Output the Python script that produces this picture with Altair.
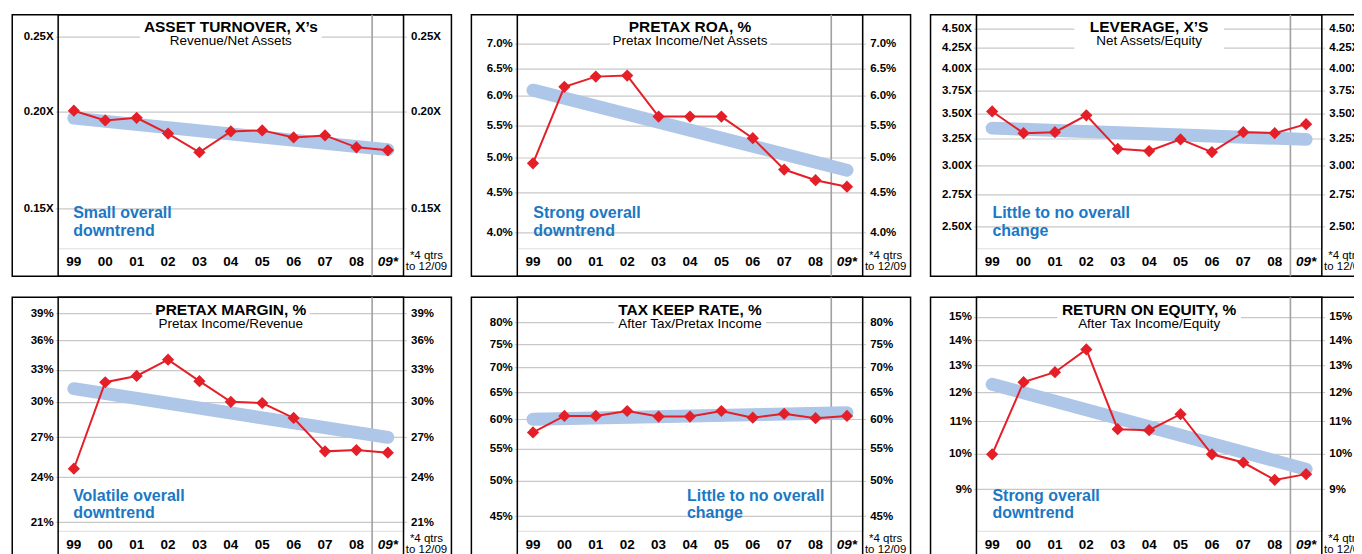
import altair as alt
import pandas as pd

categories = ["99", "00", "01", "02", "03", "04", "05", "06", "07", "08", "09*"]

titles = ["ASSET TURNOVER, X\u2019s", "PRETAX ROA, %", "LEVERAGE, X\u2019S",
          "PRETAX MARGIN, %", "TAX KEEP RATE, %", "RETURN ON EQUITY, %"]
subtitles = ["Revenue/Net Assets", "Pretax Income/Net Assets", "Net Assets/Equity",
             "Pretax Income/Revenue", "After Tax/Pretax Income", "After Tax Income/Equity"]
notes = [["Small overall", "downtrend"], ["Strong overall", "downtrend"],
         ["Little to no overall", "change"], ["Volatile overall", "downtrend"],
         ["Little to no overall", "change"], ["Strong overall", "downtrend"]]

asset_turnover = [0.2007, 0.1950, 0.1965, 0.1875, 0.1774, 0.1887, 0.1893, 0.1854, 0.1865, 0.1800, 0.1784]
pretax_roa = [4.91, 6.16, 6.35, 6.37, 5.64, 5.64, 5.64, 5.29, 4.82, 4.67, 4.58]
leverage = [3.52, 3.30, 3.31, 3.48, 3.15, 3.13, 3.24, 3.12, 3.31, 3.30, 3.39]
pretax_margin = [24.6, 31.8, 32.4, 34.0, 31.9, 30.0, 29.9, 28.6, 25.9, 26.0, 25.8]
tax_keep = [57.7, 60.6, 60.6, 61.5, 60.5, 60.5, 61.5, 60.3, 61.0, 60.2, 60.6]
roe = [9.98, 12.36, 12.73, 13.62, 10.75, 10.72, 11.24, 9.98, 9.74, 9.25, 9.41]
series = [asset_turnover, pretax_roa, leverage, pretax_margin, tax_keep, roe]

trend_start = [0.1963, 6.10, 3.35, 31.2, 60.0, 12.28]
trend_end = [0.1788, 4.81, 3.24, 27.0, 61.2, 9.55]

y_domains = [[0.1334, 0.2668], [3.815, 7.63], [2.345, 4.69],
             [20.46, 40.93], [43.1, 86.2], [7.955, 15.90]]
y_ticks = [[0.15, 0.20, 0.25],
           [4.0, 4.5, 5.0, 5.5, 6.0, 6.5, 7.0],
           [2.5, 2.75, 3.0, 3.25, 3.5, 3.75, 4.0, 4.25, 4.5],
           [21, 24, 27, 30, 33, 36, 39],
           [45, 50, 55, 60, 65, 70, 75, 80],
           [9, 10, 11, 12, 13, 14, 15]]
label_exprs = ["format(datum.value, '.2f') + 'X'",
               "format(datum.value, '.1f') + '%'",
               "format(datum.value, '.2f') + 'X'",
               "format(datum.value, 'd') + '%'",
               "format(datum.value, 'd') + '%'",
               "format(datum.value, 'd') + '%'"]
title_box_w = [182, 160, 150, 158, 152, 184]
note_x = [15, 16, 16, 15, 170, 16]
footnote = ["*4 qtrs", "to 12/09"]

W, H, ROW = 346, 234, 28
FONT = "Liberation Sans"
GRID = "#c8c8c8"
RED = "#e41f28"
TREND = "#aec6e8"
BLUE = "#1b78c4"


def panel(i):
    df = pd.DataFrame({"cat": categories, "value": series[i]})
    tdf = pd.DataFrame({"cat": [categories[0], categories[-1]],
                        "value": [trend_start[i], trend_end[i]]})
    one = pd.DataFrame({"k": [0]})
    xs = alt.Scale(type="band", domain=categories, paddingInner=0, paddingOuter=0)
    ys = alt.Scale(type="log", domain=y_domains[i], nice=False, zero=False)

    x_axis = alt.X("cat:N", scale=xs, sort=categories, title=None,
                   axis=alt.Axis(labels=False, tickBand="extent", grid=True,
                                 gridColor=GRID, gridWidth=1.2, ticks=True,
                                 tickSize=ROW, tickColor=GRID, tickWidth=1.2,
                                 domain=True, domainColor="black", domainWidth=1.5))
    x_plain = alt.X("cat:N", scale=xs, sort=categories, axis=None)

    left_axis = alt.Axis(orient="left", values=y_ticks[i], labelExpr=label_exprs[i],
                         title=None, grid=True, gridColor=GRID, gridWidth=1.2,
                         domain=False, ticks=True, tickColor=GRID, tickSize=3,
                         labelFont=FONT, labelFontWeight="bold", labelFontSize=11.5,
                         labelColor="black", labelPadding=2)
    right_axis = alt.Axis(orient="right", values=y_ticks[i], labelExpr=label_exprs[i],
                          title=None, grid=False, domain=False, ticks=True,
                          tickColor=GRID, tickSize=3,
                          labelFont=FONT, labelFontWeight="bold", labelFontSize=11.5,
                          labelColor="black", labelPadding=4)

    outer = alt.Chart(one).mark_rect(fill="white", fillOpacity=0, stroke="black",
                                     strokeWidth=1.5).encode(
        x=alt.value(-46), x2=alt.value(W + 48), y=alt.value(0), y2=alt.value(H + ROW))
    inner = alt.Chart(one).mark_rect(fill="white", fillOpacity=0, stroke="black",
                                     strokeWidth=1.5).encode(
        x=alt.value(0), x2=alt.value(W), y=alt.value(0), y2=alt.value(H + ROW))
    sep = alt.Chart(pd.DataFrame({"cat": [categories[-1]]})).mark_rule(
        color="#a0a0a0", strokeWidth=1.6).encode(
        x=alt.X("cat:N", scale=xs, sort=categories, axis=None, bandPosition=0),
        y=alt.value(0), y2=alt.value(H + ROW))
    tbox = alt.Chart(one).mark_rect(fill="white").encode(
        x=alt.value(W / 2 - title_box_w[i] / 2), x2=alt.value(W / 2 + title_box_w[i] / 2),
        y=alt.value(3), y2=alt.value(36))
    ttl = alt.Chart(one).mark_text(text=titles[i], font=FONT, fontSize=15.5,
                                   fontWeight="bold", color="black", align="center",
                                   baseline="alphabetic").encode(
        x=alt.value(W / 2), y=alt.value(17.5))
    sub = alt.Chart(one).mark_text(text=subtitles[i], font=FONT, fontSize=13.5,
                                   color="black", align="center",
                                   baseline="alphabetic").encode(
        x=alt.value(W / 2), y=alt.value(30.5))
    trend = alt.Chart(tdf).mark_line(color=TREND, strokeWidth=13, strokeCap="round").encode(
        x=x_axis, y=alt.Y("value:Q", scale=ys, axis=left_axis))
    line = alt.Chart(df).mark_line(color=RED, strokeWidth=2).encode(
        x=x_plain, y=alt.Y("value:Q", scale=ys, axis=right_axis))
    pts = alt.Chart(df).mark_point(shape="diamond", filled=True, size=150, color=RED,
                                   opacity=1).encode(
        x=x_plain, y=alt.Y("value:Q", scale=ys, axis=None))
    xlab = alt.Chart(df).mark_text(font=FONT, fontSize=13.5, fontWeight="bold",
                                   color="black", baseline="middle").encode(
        x=x_plain, y=alt.value(H + 14), text="cat:N").transform_filter(
        alt.datum.cat != categories[-1])
    xlab_last = alt.Chart(df).mark_text(font=FONT, fontSize=13.5, fontWeight="bold",
                                        fontStyle="italic", color="black",
                                        baseline="middle").encode(
        x=x_plain, y=alt.value(H + 14), text="cat:N").transform_filter(
        alt.datum.cat == categories[-1])
    foot = alt.Chart(one).mark_text(text=footnote, font=FONT, fontSize=11.5, lineHeight=11,
                                    color="black", align="center",
                                    baseline="alphabetic").encode(
        x=alt.value(W + 23), y=alt.value(H + 11))
    note = alt.Chart(one).mark_text(text=notes[i], font=FONT, fontSize=16, lineHeight=17.5,
                                    fontWeight="bold", color=BLUE, align="left",
                                    baseline="alphabetic").encode(
        x=alt.value(note_x[i]), y=alt.value(204))

    return alt.layer(outer, inner, sep, tbox, ttl, sub, trend, line, pts, xlab,
                     xlab_last, foot, note).resolve_axis(y="independent").properties(
        width=W, height=H)


chart = alt.concat(*[panel(i) for i in range(6)], columns=3,
                   spacing={"row": 49, "column": 114}).properties(
    bounds="flush", padding={"left": 2.25, "top": 4.25, "right": -17.75, "bottom": -4.75}
).configure_view(stroke=None).configure(font=FONT)

chart.save("out.html", embed_options={"renderer": "svg", "actions": False})
